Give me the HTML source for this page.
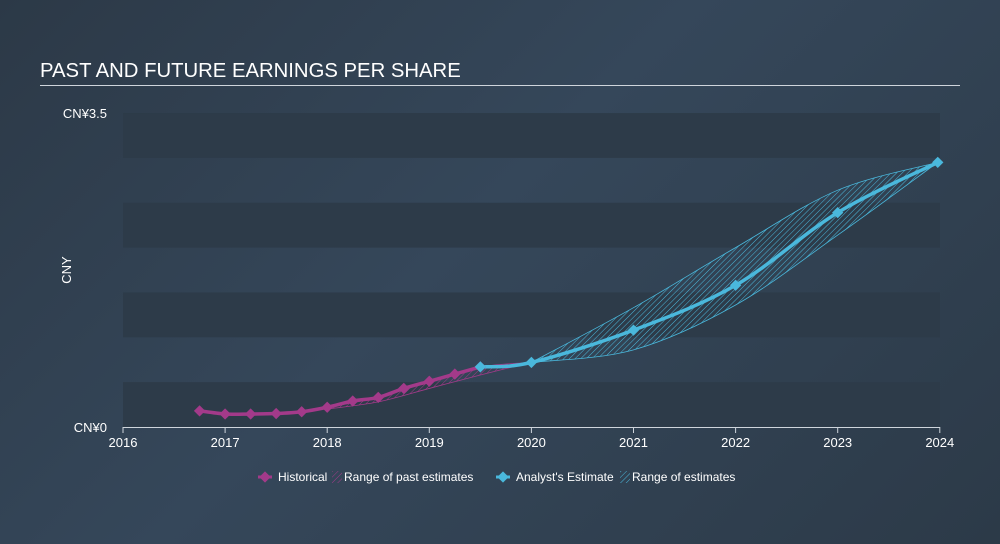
<!DOCTYPE html>
<html><head><meta charset="utf-8"><style>
body{margin:0;width:1000px;height:544px;background:linear-gradient(135deg,#2c3947 0%,#35475a 45%,#2c3a48 100%);font-family:"Liberation Sans",sans-serif;overflow:hidden}
</style></head><body>
<div style="position:absolute;left:40px;top:60px;color:#fff;font-size:20.3px">PAST AND FUTURE EARNINGS PER SHARE</div>
<div style="position:absolute;left:40px;top:85px;width:920px;height:1px;background:#cfd5dc"></div>
<svg id="c" width="1000" height="544" style="position:absolute;left:0;top:0" font-family="Liberation Sans, sans-serif">
<defs><pattern id="h" width="4" height="4" patternUnits="userSpaceOnUse" patternTransform="rotate(45)"><line x1="0" y1="0" x2="0" y2="4" stroke="#4ab8dc" stroke-width="1"/></pattern>
<pattern id="hp" width="4" height="4" patternUnits="userSpaceOnUse" patternTransform="rotate(45)"><line x1="0" y1="0" x2="0" y2="4" stroke="#a33a8a" stroke-width="1"/></pattern></defs>
</svg>
<script>
const yearTicks=[2016,2017,2018,2019,2020,2021,2022,2023,2024];
const histX=[2016.75,2017,2017.25,2017.5,2017.75,2018,2018.25,2018.5,2018.75,2019,2019.25,2019.5];
const histY=[0.18,0.145,0.145,0.15,0.17,0.22,0.29,0.33,0.43,0.51,0.59,0.67];
const pastRangeX=[2018,2018.5,2019,2019.5,2020];
const pastLow=[0.2,0.28,0.43,0.58,0.72];
const pastHigh=[0.22,0.33,0.51,0.67,0.72];
const estX=[2019.5,2020,2021,2022,2023,2023.98];
const estY=[0.67,0.72,1.08,1.58,2.39,2.95];
const rangeX=[2020,2021,2022,2023,2023.98];
const rangeLow=[0.72,0.86,1.36,2.14,2.95];
const rangeHigh=[0.72,1.33,2.0,2.64,2.95];
const svg=document.getElementById('c');const NS='http://www.w3.org/2000/svg';
const X=v=>123+(v-2016)*102.1, Y=v=>427-v*89.7;
function mk(t,a,p){const e=document.createElementNS(NS,t);for(const k in a)e.setAttribute(k,a[k]);(p||svg).appendChild(e);return e;}
for(let i=0;i<7;i++){if(i%2==0){const b=mk('rect',{x:123,y:Y(3.5-i*0.5),width:817,height:Y(0)-Y(0.5),fill:'#2d3b49'});}}
function smooth(xs,ys){const p=xs.map((x,i)=>[X(x),Y(ys[i])]);let d='M'+p[0];for(let i=0;i<p.length-1;i++){const p0=p[i-1]||p[i],p1=p[i],p2=p[i+1],p3=p[i+2]||p2;d+=`C${p1[0]+(p2[0]-p0[0])/6},${p1[1]+(p2[1]-p0[1])/6} ${p2[0]-(p3[0]-p1[0])/6},${p2[1]-(p3[1]-p1[1])/6} ${p2[0]},${p2[1]}`;}return d;}
function area(xs,lo,hi,fill,stroke,name){const up=smooth(xs,hi);const rx=[...xs].reverse(),rl=[...lo].reverse();const dn=smooth(rx,rl).replace('M','L');const a=mk('path',{d:up+dn+'Z',fill:fill,stroke:stroke,'stroke-width':0.8});}
area(pastRangeX,pastLow,pastHigh,'url(#hp)','#a33a8a','past-estimate-range');
area(rangeX,rangeLow,rangeHigh,'url(#h)','#4ab8dc','estimate-range');
const hl=mk('path',{d:smooth(histX,histY),fill:'none',stroke:'#a33a8a','stroke-width':3.5});
const el=mk('path',{d:smooth(estX,estY),fill:'none',stroke:'#4ab8dc','stroke-width':3.5});
function dia(x,y,c){return mk('rect',{x:x-4,y:y-4,width:8,height:8,fill:c,transform:`rotate(45 ${x} ${y})`});}
histX.forEach((x,i)=>{const d=dia(X(x),Y(histY[i]),'#a33a8a');});
estX.forEach((x,i)=>{const d=dia(X(x),Y(estY[i]),'#4ab8dc');});
const ax=mk('line',{x1:123,x2:940,y1:427.5,y2:427.5,stroke:'#cfd5dc'});
yearTicks.forEach(t=>{const l=mk('line',{x1:X(t),x2:X(t),y1:427,y2:433,stroke:'#cfd5dc'});
const tx=mk('text',{x:X(t),y:447,fill:'#fff','font-size':13,'text-anchor':'middle'});tx.textContent=t;});
function txt(s,a,n){const t=mk('text',a);t.textContent=s;return t;}
txt('CN¥3.5',{x:107,y:118,fill:'#fff','font-size':13,'text-anchor':'end'},'y-max-label');
txt('CN¥0',{x:107,y:432,fill:'#fff','font-size':13,'text-anchor':'end'},'y-min-label');
txt('CNY',{x:71,y:270,fill:'#fff','font-size':13,'text-anchor':'middle',transform:'rotate(-90 71 270)'},'y-axis-title');
const l1=mk('line',{x1:258,x2:272,y1:477,y2:477,stroke:'#a33a8a','stroke-width':3});
dia(265,477,'#a33a8a');
txt('Historical',{x:278,y:481,fill:'#fff','font-size':12},'legend-historical');
const s2=mk('rect',{x:332,y:471,width:10,height:12,fill:'url(#hp)'});
txt('Range of past estimates',{x:344,y:481,fill:'#fff','font-size':12},'legend-past-range');
const l3=mk('line',{x1:496,x2:510,y1:477,y2:477,stroke:'#4ab8dc','stroke-width':3});
dia(503,477,'#4ab8dc');
txt("Analyst's Estimate",{x:516,y:481,fill:'#fff','font-size':12},'legend-estimate');
const s4=mk('rect',{x:620,y:471,width:10,height:12,fill:'url(#h)'});
txt('Range of estimates',{x:632,y:481,fill:'#fff','font-size':12},'legend-range');
</script>
</body></html>
